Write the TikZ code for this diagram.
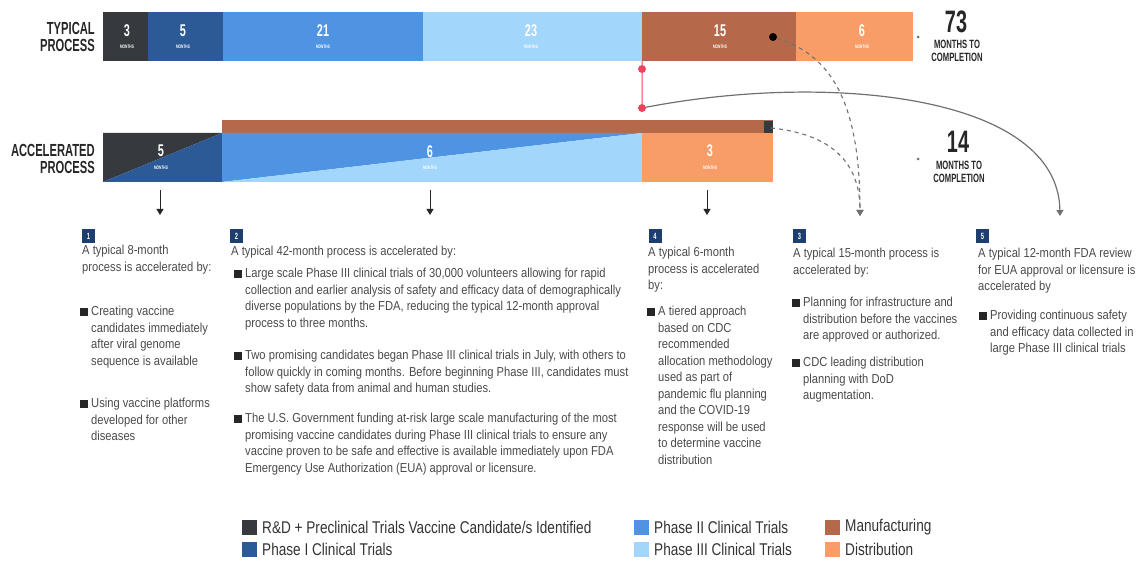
\documentclass[tikz,border=0pt]{standalone}
\usepackage{fontspec}
\setmainfont{Liberation Sans}
\newfontfamily\bodyf[FakeStretch=0.86]{Liberation Sans}
\newfontfamily\headf[FakeStretch=0.64]{Liberation Sans}
\newfontfamily\legf[FakeStretch=0.8]{Liberation Sans}
\usetikzlibrary{arrows.meta}
\definecolor{rdc}{HTML}{36393D}
\definecolor{p1c}{HTML}{2C5A96}
\definecolor{p2c}{HTML}{4F93E3}
\definecolor{p3c}{HTML}{A2D6FB}
\definecolor{mfc}{HTML}{B5694B}
\definecolor{dsc}{HTML}{F99D68}
\definecolor{navy}{HTML}{1F3E70}
\definecolor{redc}{HTML}{F0435A}
\definecolor{txtc}{HTML}{4A4A4A}
\definecolor{linec}{HTML}{707070}
\newcommand{\bsq}{\makebox[0pt][r]{\textcolor{black!85}{\rule{8pt}{8pt}}\hspace{3pt}}}
\tikzset{
  seg/.style={draw=none, inner sep=0, minimum height=49pt},
  num/.style={text=white, font=\headf\bfseries\fontsize{17}{17}\selectfont, inner sep=0},
  mon/.style={text=white, font=\headf\bfseries\fontsize{5}{5}\selectfont, inner sep=0},
  head/.style={align=right, font=\headf\bfseries\fontsize{17.5}{17}\selectfont, text=black!85, inner sep=0},
  big/.style={font=\headf\bfseries\fontsize{31}{31}\selectfont, text=black!85, inner sep=0},
  comp/.style={align=center, font=\headf\bfseries\fontsize{12}{12.5}\selectfont, text=black!85, inner sep=0},
  body/.style={align=left, anchor=north west, inner sep=0, text=txtc, font=\bodyf\fontsize{13}{16.5}\selectfont},
  nbox/.style={fill=navy, text=white, minimum width=13pt, minimum height=14pt, inner sep=0, font=\headf\bfseries\fontsize{9}{9}\selectfont},
  darr/.style={draw=black!85, line width=1pt, -{Triangle[width=7pt,length=6pt]}},
  dasharr/.style={draw=linec, line width=1.1pt, dash pattern=on 4pt off 4pt, -{Triangle[width=7pt,length=6pt]}},
  lsq/.style={minimum width=15pt, minimum height=15pt, inner sep=0},
  leg/.style={anchor=west, inner sep=0, text=black!80, font=\legf\fontsize{17}{17}\selectfont},
}
\begin{document}
\begin{tikzpicture}[x=1pt,y=-1pt]
\useasboundingbox (0,0) rectangle (1142,561);
% ---------- typical process bar ----------
\node[head, anchor=east] (typ) at (95,37) {TYPICAL\\PROCESS};
\node[seg, fill=rdc, minimum width=45pt] (t1) at (125.5,36.5) {};
\node[seg, fill=p1c, minimum width=75pt] (t2) at (185.5,36.5) {};
\node[seg, fill=p2c, minimum width=200pt] (t3) at (323,36.5) {};
\node[seg, fill=p3c, minimum width=219pt] (t4) at (532.5,36.5) {};
\node[seg, fill=mfc, minimum width=154pt] (t5) at (719,36.5) {};
\node[seg, fill=dsc, minimum width=117pt] (t6) at (854.5,36.5) {};
\foreach \n/\x/\v in {a/127/3, b/183/5, c/323/21, d/531/23, e/720/15, f/862/6}{
  \node[num] (tn\n) at (\x,31) {\v};
  \node[mon] (tm\n) at (\x,47) {MONTHS};
}
\node[fill=black, circle, inner sep=0, minimum size=8pt] (mdot) at (773,37) {};
\node[fill=linec, circle, inner sep=0, minimum size=3pt] (gd1) at (918,37) {};
\node[big] (n73) at (956,22) {73};
\node[comp] (c73) at (957,51) {MONTHS TO\\COMPLETION};
% ---------- red marker ----------
\node[fill=redc, circle, inner sep=0, minimum size=8pt] (rd1) at (642,69) {};
\node[fill=redc, circle, inner sep=0, minimum size=8pt] (rd2) at (642,108) {};
\draw[redc, line width=1pt] (t4.south east) -- (rd1) -- (rd2);
% ---------- accelerated process bar ----------
\node[head, anchor=east] (acc) at (95,159) {ACCELERATED\\PROCESS};
\fill[mfc] (222,120) rectangle (773,133);
\fill[rdc] (764,121) rectangle (773,133);
\coordinate (corner) at (771,128);
\fill[rdc] (103,133) -- (222,133) -- (103,182) -- cycle;
\fill[p1c] (222,133) -- (222,182) -- (103,182) -- cycle;
\fill[p2c] (222,133) -- (642,133) -- (222,182) -- cycle;
\fill[p3c] (642,133) -- (642,182) -- (222,182) -- cycle;
\fill[dsc] (642,133) rectangle (773,182);
\node[num] (an1) at (161,151) {5};
\node[mon] (am1) at (161,168) {MONTHS};
\node[num] (an2) at (430,152) {6};
\node[mon] (am2) at (430,168) {MONTHS};
\node[num] (an3) at (710,151) {3};
\node[mon] (am3) at (710,168) {MONTHS};
\node[fill=linec, circle, inner sep=0, minimum size=3pt] (gd2) at (918,159) {};
\node[big] (n14) at (958,142) {14};
\node[comp] (c14) at (959,172) {MONTHS TO\\COMPLETION};
% ---------- connectors ----------
\coordinate (s1) at (160,190); \coordinate (e1) at (160,215);
\coordinate (s2) at (430,190); \coordinate (e2) at (430,215);
\coordinate (s4) at (707,190); \coordinate (e4) at (707,215);
\coordinate (e3) at (860,216);
\coordinate (e5) at (1060,216);
\draw[darr] (s1) -- (e1);
\draw[darr] (s2) -- (e2);
\draw[darr] (s4) -- (e4);
\draw[dasharr] (mdot) .. controls (830,55) and (860,100) .. (e3);
\draw[dasharr] (corner) .. controls (840,135) and (860,170) .. (e3);
\draw[draw=linec, line width=1.2pt, -{Triangle[width=7pt,length=6pt]}] (rd2) .. controls (830,72) and (1058,95) .. (e5);
% ---------- column 1 ----------
\node[nbox] (b1) at (88.5,236) {1};
\node[body] (c1i) at (82,245) {A typical 8-month\\process is accelerated by:};
\node[body] (c1a) at (91,306) {\bsq Creating vaccine\\candidates immediately\\after viral genome\\sequence is available};
\node[body] (c1b) at (91,398) {\bsq Using vaccine platforms\\developed for other\\diseases};
% ---------- column 2 ----------
\node[nbox] (b2) at (236.5,236) {2};
\node[body] (c2i) at (231,246) {A typical 42-month process is accelerated by:};
\node[body] (c2a) at (245,268) {\bsq Large scale Phase III clinical trials of 30,000 volunteers allowing for rapid\\collection and earlier analysis of safety and efficacy data of demographically\\diverse populations by the FDA, reducing the typical 12-month approval\\process to three months.};
\node[body] (c2b) at (245,350) {\bsq Two promising candidates began Phase III clinical trials in July, with others to\\follow quickly in coming months. Before beginning Phase III, candidates must\\show safety data from animal and human studies.};
\node[body] (c2c) at (245,413) {\bsq The U.S. Government funding at-risk large scale manufacturing of the most\\promising vaccine candidates during Phase III clinical trials to ensure any\\vaccine proven to be safe and effective is available immediately upon FDA\\Emergency Use Authorization (EUA) approval or licensure.};
% ---------- column 4 (box 4) ----------
\node[nbox] (b4) at (655,236) {4};
\node[body] (c4i) at (648,247) {A typical 6-month\\process is accelerated\\by:};
\node[body] (c4a) at (658,306) {\bsq A tiered approach\\based on CDC\\recommended\\allocation methodology\\used as part of\\pandemic flu planning\\and the COVID-19\\response will be used\\to determine vaccine\\distribution};
% ---------- column (box 3) ----------
\node[nbox] (b3) at (799.5,236) {3};
\node[body] (c3i) at (793,248) {A typical 15-month process is\\accelerated by:};
\node[body] (c3a) at (803,297) {\bsq Planning for infrastructure and\\distribution before the vaccines\\are approved or authorized.};
\node[body] (c3b) at (803,357) {\bsq CDC leading distribution\\planning with DoD\\augmentation.};
% ---------- column (box 5) ----------
\node[nbox] (b5) at (982.5,236) {5};
\node[body] (c5i) at (978,248) {A typical 12-month FDA review\\for EUA approval or licensure is\\accelerated by};
\node[body] (c5a) at (990,310) {\bsq Providing continuous safety\\and efficacy data collected in\\large Phase III clinical trials};
% ---------- legend ----------
\node[lsq, fill=rdc] (l1) at (249,527) {};
\node[leg] (l1t) at (262,527) {R\&D + Preclinical Trials Vaccine Candidate/s Identified};
\node[lsq, fill=p1c] (l2) at (249,549) {};
\node[leg] (l2t) at (262,549) {Phase I Clinical Trials};
\node[lsq, fill=p2c] (l3) at (641,527) {};
\node[leg] (l3t) at (654,527) {Phase II Clinical Trials};
\node[lsq, fill=p3c] (l4) at (641,549) {};
\node[leg] (l4t) at (654,549) {Phase III Clinical Trials};
\node[lsq, fill=mfc] (l5) at (832,527) {};
\node[leg] (l5t) at (845,527) {Manufacturing};
\node[lsq, fill=dsc] (l6) at (832,549) {};
\node[leg] (l6t) at (845,549) {Distribution};
\end{tikzpicture}
\end{document}
